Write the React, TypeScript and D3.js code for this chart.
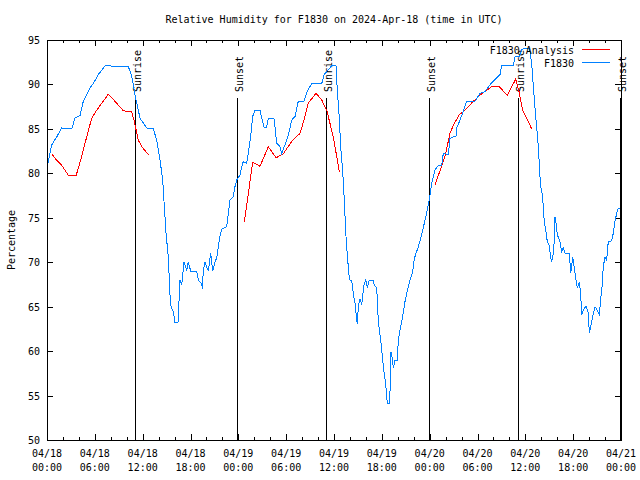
import { useEffect, useRef } from 'react';
import * as d3 from 'd3';

// Hours after 2024-04-18 00:00 UTC, relative humidity (%)
const obsHours = [
  0.1, 0.59, 1.22, 1.84, 3.1, 3.51, 4.14, 4.55, 5.39, 5.81, 6.43, 7.28, 10.2, 10.62, 11.04, 11.67, 12.51, 13.33,
  13.76, 14.17, 14.51, 14.68, 14.93, 15.22, 15.43, 15.55, 15.84, 16.06, 16.43, 16.68, 16.9, 17.19, 17.52, 17.72,
  18.03, 18.78, 18.98, 19.41, 19.48, 19.61, 19.82, 20.23, 20.45, 20.53, 20.79, 21.07, 21.29, 21.49, 21.7, 21.91,
  22.54, 22.74, 22.96, 23.37, 23.58, 23.8, 24.21, 24.42, 24.62, 25.05, 25.25, 25.55, 25.8, 26.09, 26.72, 26.93,
  27.26, 27.56, 27.76, 28.51, 28.6, 28.81, 29.23, 29.44, 29.85, 30.27, 30.7, 31.11, 31.32, 31.52, 32.24, 32.58,
  33.2, 34.46, 34.75, 35.71, 36.25, 36.42, 36.67, 36.84, 37.09, 37.29, 37.47, 37.59, 37.72, 37.88, 38.01, 38.22,
  38.42, 38.63, 38.76, 38.92, 39.05, 39.26, 39.48, 39.6, 39.76, 39.98, 40.18, 40.43, 40.93, 41.06, 41.36, 41.56,
  41.86, 42.06, 42.27, 42.49, 42.69, 42.94, 43.03, 43.15, 43.31, 43.44, 43.65, 43.94, 44.07, 44.28, 44.49, 44.69,
  44.91, 45.12, 45.53, 45.87, 46.07, 46.29, 46.58, 46.88, 47.13, 47.42, 47.7, 47.95, 48.26, 48.67, 49.08, 49.51,
  49.71, 50.34, 50.55, 50.97, 51.3, 51.39, 51.81, 52.22, 52.65, 53.69, 54.32, 54.94, 55.7, 56.82, 57.04, 58.49,
  58.71, 59.24, 59.55, 59.87, 60.5, 60.8, 61.0, 61.34, 61.63, 61.84, 61.93, 62.18, 62.26, 62.38, 62.59, 62.76,
  63.01, 63.19, 63.31, 63.44, 63.6, 63.72, 63.85, 64.01, 64.35, 64.56, 64.76, 64.98, 65.52, 65.7, 65.94, 66.11,
  66.36, 66.52, 66.77, 66.95, 67.07, 67.27, 67.61, 67.9, 68.03, 68.2, 68.45, 68.74, 69.03, 69.28, 69.46, 69.62,
  69.78, 69.99, 70.2, 70.4, 70.83, 71.03, 71.24, 71.46, 71.68, 71.89,
];
const obsValues = [
  81.1, 83.2, 84.1, 85.1, 85, 86.2, 86.5, 88.1, 89.6, 90.1, 91.1, 92.1, 92, 91, 88.8, 86.2, 85.1, 85,
  83.75, 81.5, 79.3, 76.8, 73.3, 70.5, 66.3, 65.1, 64.4, 63.2, 63.2, 68, 67.4, 70, 69.1, 70,
  69, 69, 68, 67.6, 67, 69.1, 70, 69, 70.5, 71, 69, 70, 70.5, 71.75, 72.9, 73.7,
  74, 75.5, 77, 77.4, 78.5, 79.25, 79.8, 80.75, 81.3, 81.1, 82.3, 84.1, 86.4, 87.1, 87.1, 86.2,
  85.1, 85.2, 86.2, 86.1, 85.2, 83.4, 83, 82.25, 83.2, 84.3, 86, 86.4, 87.3, 88.1, 88.1, 89.1,
  90.1, 90.1, 91.1, 92.1, 92.1, 89.2, 86.2, 83, 80.2, 77, 73.4, 71.75, 70.25, 68.6, 68, 68,
  66.5, 65.4, 64.3, 63, 65, 65.9, 65.2, 66.3, 67.4, 68, 67.1, 68, 68, 67.4, 67.1, 63.3,
  61.25, 59.4, 57.7, 56.2, 54.1, 54.1, 55.6, 59.9, 59.2, 58.1, 59, 59, 61.25, 62.4, 63.3, 64.3,
  65.6, 66.5, 68, 68.9, 70.4, 71, 71.75, 72.7, 73.6, 74.75, 75.9, 77, 78.9, 80.4, 80.9, 80.9,
  82.25, 82.1, 83.9, 84.1, 84.1, 85.1, 86, 87, 88.1, 88.1, 89, 89.2, 90.1, 91.1, 92.1, 92.1,
  93.1, 93.1, 93.9, 94.1, 94.1, 92.4, 89.75, 86, 83, 79.6, 78.5, 77.4, 75.9, 74.6, 73.4, 72.3,
  71.9, 70.4, 70.1, 70.5, 72.1, 75.1, 74.4, 73.1, 72.3, 71.2, 71.6, 71, 71, 68.75, 70.6, 69.5,
  68, 67.1, 67.8, 66.3, 64.1, 64.6, 65.1, 64.3, 62, 62.75, 63.9, 65, 64.6, 64.1, 65.9, 67.25,
  69.5, 70.6, 70.2, 72.3, 72.4, 73.25, 74.6, 75.5, 76.1, 76.1,
];

// Analysis runs (three separate segments)
const anaHours1 = [0.59, 1.0, 1.84, 2.67, 3.64, 4.35, 4.98, 5.61, 6.23, 7.69, 8.53, 9.57, 10.62, 10.91, 11.45, 11.88, 12.71];
const anaValues1 = [82.2, 81.7, 80.9, 79.8, 79.7, 81.9, 84.1, 86.2, 87.1, 88.9, 88.1, 87.05, 86.9, 86, 83.75, 83, 82.1];
const anaHours2 = [24.75, 25.8, 26.72, 27.76, 28.73, 29.64, 30.7, 31.74, 32.36, 32.78, 33.74, 34.46, 35.09, 35.91, 36.42, 36.67];
const anaValues2 = [74.5, 81.25, 80.8, 83, 81.75, 82.2, 83.6, 84.5, 86.4, 87.9, 89, 88.25, 87.1, 84.1, 81.5, 80.2];
const anaHours3 = [48.67, 49.92, 50.55, 50.97, 51.72, 52.43, 53.47, 54.32, 55.78, 56.74, 57.74, 58.79, 59.21, 59.67, 60.8];
const anaValues3 = [78.7, 81.9, 84.5, 85.4, 86.6, 87.1, 88.1, 88.8, 89.75, 89.75, 88.75, 90.6, 89.2, 87.1, 85];

const sunEvents = ['Sunrise', 'Sunset', 'Sunrise', 'Sunset', 'Sunrise', 'Sunset'];
const sunHours = [11.04, 23.84, 35.0, 47.92, 59.08, 71.88];

const yTicks = [50, 55, 60, 65, 70, 75, 80, 85, 90, 95];
const legendLabels = ['F1830 Analysis', 'F1830'];
const legendColors = ['#ff0000', '#0080ff'];

const start = Date.UTC(2024, 3, 18, 0, 0);
const toDate = (h: number) => new Date(start + h * 3600 * 1000);

export default function App() {
  const svgRef = useRef<SVGSVGElement>(null);

  useEffect(() => {
    if (!svgRef.current) return;
    const svg = d3.select(svgRef.current);
    svg.selectAll('*').remove();

    const width = 640;
    const height = 480;
    const margin = { top: 40, right: 19, bottom: 40, left: 47 };
    const font = '"DejaVu Sans Mono", monospace';

    svg.append('rect').attr('width', width).attr('height', height).attr('fill', '#fff');

    const x = d3
      .scaleUtc()
      .domain([toDate(0), toDate(72)])
      .range([margin.left, width - margin.right]);
    const y = d3
      .scaleLinear()
      .domain([50, 95])
      .range([height - margin.bottom, margin.top]);

    const top = margin.top;
    const bottom = height - margin.bottom;
    const left = margin.left;
    const right = width - margin.right;

    // Ticks (gnuplot style: inward, mirrored)
    const major = d3.utcHour.every(6)!.range(toDate(0), toDate(72.01));
    const minor = d3.utcHour.every(2)!.range(toDate(0), toDate(72.01));
    const tg = svg.append('g').attr('stroke', '#000').attr('stroke-width', 1).attr('shape-rendering', 'crispEdges');
    minor.forEach((d) => {
      const len = major.some((m) => +m === +d) ? 6 : 3;
      const px = Math.round(x(d)) + 0.5;
      tg.append('line').attr('x1', px).attr('x2', px).attr('y1', bottom).attr('y2', bottom - len);
      tg.append('line').attr('x1', px).attr('x2', px).attr('y1', top).attr('y2', top + len);
    });
    yTicks.forEach((v) => {
      const py = Math.round(y(v)) + 0.5;
      tg.append('line').attr('x1', left).attr('x2', left + 6).attr('y1', py).attr('y2', py);
      tg.append('line').attr('x1', right).attr('x2', right - 6).attr('y1', py).attr('y2', py);
    });

    // Tick labels
    const fmtDay = d3.utcFormat('%m/%d');
    const fmtTime = d3.utcFormat('%H:%M');
    major.forEach((d) => {
      const t = svg
        .append('text')
        .attr('x', x(d))
        .attr('text-anchor', 'middle')
        .attr('font-family', font)
        .attr('font-size', 10)
        .attr('fill', '#000');
      t.append('tspan').attr('x', x(d)).attr('y', 457).text(fmtDay(d));
      t.append('tspan').attr('x', x(d)).attr('y', 471).text(fmtTime(d));
    });
    yTicks.forEach((v) => {
      svg
        .append('text')
        .attr('x', left - 7)
        .attr('y', y(v) + 4)
        .attr('text-anchor', 'end')
        .attr('font-family', font)
        .attr('font-size', 10)
        .attr('fill', '#000')
        .text(v);
    });

    // Sunrise / sunset markers
    sunHours.forEach((h, i) => {
      const px = Math.round(x(toDate(h))) + 0.5;
      svg
        .append('line')
        .attr('x1', px)
        .attr('x2', px)
        .attr('y1', 98)
        .attr('y2', bottom)
        .attr('stroke', '#000')
        .attr('stroke-width', 1)
        .attr('shape-rendering', 'crispEdges');
      svg
        .append('text')
        .attr('transform', `translate(${px + 5},92) rotate(-90)`)
        .attr('font-family', font)
        .attr('font-size', 10)
        .attr('fill', '#000')
        .text(sunEvents[i]);
    });

    // Series
    const line = d3
      .line<[number, number]>()
      .x((d) => x(toDate(d[0])))
      .y((d) => y(d[1]));

    const segments = [
      [anaHours1, anaValues1],
      [anaHours2, anaValues2],
      [anaHours3, anaValues3],
    ];
    segments.forEach(([hs, vs]) => {
      svg
        .append('path')
        .datum(hs.map((h, i) => [h, vs[i]] as [number, number]))
        .attr('d', line)
        .attr('fill', 'none')
        .attr('stroke', legendColors[0])
        .attr('stroke-width', 1)
        .attr('shape-rendering', 'crispEdges');
    });

    svg
      .append('path')
      .datum(obsHours.map((h, i) => [h, obsValues[i]] as [number, number]))
      .attr('d', line)
      .attr('fill', 'none')
      .attr('stroke', legendColors[1])
      .attr('stroke-width', 1)
      .attr('shape-rendering', 'crispEdges');

    // Border
    svg
      .append('rect')
      .attr('x', left + 0.5)
      .attr('y', top + 0.5)
      .attr('width', right - left)
      .attr('height', bottom - top)
      .attr('fill', 'none')
      .attr('stroke', '#000')
      .attr('stroke-width', 1)
      .attr('shape-rendering', 'crispEdges');

    // Legend
    legendLabels.forEach((label, i) => {
      const ly = 50 + i * 13;
      svg
        .append('text')
        .attr('x', 574)
        .attr('y', ly + 4)
        .attr('text-anchor', 'end')
        .attr('font-family', font)
        .attr('font-size', 10)
        .attr('fill', '#000')
        .text(label);
      svg
        .append('line')
        .attr('x1', 582)
        .attr('x2', 610)
        .attr('y1', ly - 0.5)
        .attr('y2', ly - 0.5)
        .attr('stroke', legendColors[i])
        .attr('stroke-width', 1)
        .attr('shape-rendering', 'crispEdges');
    });

    // Title and axis label
    svg
      .append('text')
      .attr('x', (left + right) / 2)
      .attr('y', 23)
      .attr('text-anchor', 'middle')
      .attr('font-family', font)
      .attr('font-size', 10)
      .attr('fill', '#000')
      .text('Relative Humidity for F1830 on 2024-Apr-18 (time in UTC)');

    svg
      .append('text')
      .attr('transform', `translate(15,${(top + bottom) / 2}) rotate(-90)`)
      .attr('text-anchor', 'middle')
      .attr('font-family', font)
      .attr('font-size', 10)
      .attr('fill', '#000')
      .text('Percentage');
  }, []);

  return (
    <svg
      ref={svgRef}
      width={640}
      height={480}
      style={{ position: 'absolute', left: 0, top: 0, display: 'block' }}
    />
  );
}
